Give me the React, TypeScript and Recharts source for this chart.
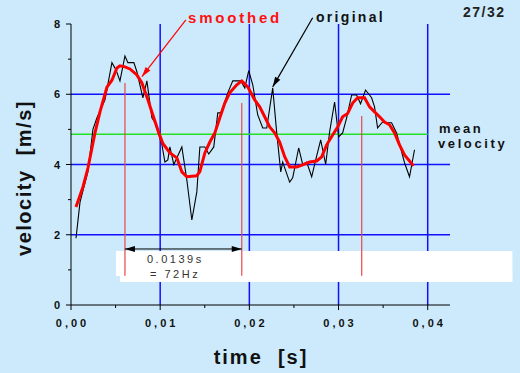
import React from 'react';
import {
  LineChart, Line, XAxis, YAxis, CartesianGrid, ReferenceLine, ReferenceArea,
} from 'recharts';

// ---- data (time in s, velocity in m/s) ----
const originalTime = [
  0.00056, 0.00101, 0.0019, 0.00246, 0.00291, 0.00381, 0.00459, 0.00504, 0.00549, 0.00605,
  0.00638, 0.00705, 0.00739, 0.00806, 0.00851, 0.00907, 0.00941, 0.0102, 0.01053, 0.01086,
  0.01109, 0.01153, 0.01243, 0.01299, 0.01355, 0.01411, 0.01445, 0.01501, 0.01545, 0.01601,
  0.01646, 0.0168, 0.01758, 0.01814, 0.01904, 0.01949, 0.01993, 0.02038, 0.02094, 0.0215,
  0.02195, 0.02262, 0.02307, 0.02352, 0.02374, 0.02452, 0.02486, 0.02553, 0.02598, 0.02643,
  0.02699, 0.02744, 0.028, 0.02856, 0.029, 0.02956, 0.03001, 0.03046, 0.03091, 0.03147,
  0.03203, 0.03247, 0.03303, 0.03371, 0.03404, 0.03438, 0.03494, 0.03539, 0.03595, 0.03651,
  0.0374, 0.03796, 0.03852,
];
const originalVelocity = [
  1.9, 2.93, 3.8, 5.0, 5.33, 5.84, 6.9, 6.7, 6.38, 7.09,
  6.9, 6.9, 6.64, 5.9, 6.38, 5.33, 5.2, 4.56, 4.07, 4.13,
  4.5, 4.0, 4.5, 3.56, 2.42, 3.22, 4.5, 4.5, 4.3, 4.5,
  5.47, 5.47, 6.04, 6.38, 6.38, 6.18, 6.67, 6.27, 5.41, 5.04,
  5.04, 6.18, 4.9, 3.79, 4.07, 3.5, 3.62, 4.47, 4.0, 4.07,
  3.65, 4.13, 4.7, 4.0, 4.93, 5.78, 4.79, 4.9, 5.33, 5.98,
  5.98, 5.73, 6.12, 5.9, 5.64, 5.04, 5.21, 5.19, 5.19, 4.9,
  4.05, 3.65, 4.42,
];
const smoothedTime = [
  0.00056, 0.00134, 0.0019, 0.00269, 0.00325, 0.00403, 0.00459, 0.00515, 0.00549, 0.00605,
  0.00661, 0.00739, 0.00795, 0.00862, 0.00918, 0.00985, 0.0103, 0.01109, 0.01187, 0.01243,
  0.01299, 0.01411, 0.01445, 0.01501, 0.01557, 0.01613, 0.01669, 0.01725, 0.0178, 0.01859,
  0.01915, 0.01982, 0.0206, 0.02116, 0.02172, 0.02228, 0.02284, 0.0234, 0.02396, 0.02452,
  0.02531, 0.02598, 0.02676, 0.02755, 0.02811, 0.02867, 0.02934, 0.0299, 0.03046, 0.03102,
  0.03158, 0.03214, 0.03292, 0.03348, 0.03404, 0.0346, 0.03516, 0.03572, 0.03628, 0.03684,
  0.0374, 0.03796, 0.03841,
];
const smoothedVelocity = [
  2.79, 3.36, 3.9, 4.9, 5.5, 6.2, 6.4, 6.75, 6.81, 6.78,
  6.72, 6.55, 6.32, 5.84, 5.41, 4.9, 4.6, 4.33, 4.19, 3.79,
  3.65, 3.68, 3.8, 4.33, 4.64, 4.9, 5.33, 5.75, 6.04, 6.27,
  6.38, 6.21, 5.84, 5.64, 5.36, 5.07, 4.9, 4.64, 4.22, 3.93,
  3.93, 3.99, 4.07, 4.1, 4.22, 4.56, 4.84, 5.07, 5.36, 5.45,
  5.75, 5.9, 5.9, 5.64, 5.5, 5.36, 5.21, 5.13, 4.9, 4.56,
  4.27, 4.1, 3.96,
];
const meanVelocity = 4.86;
const peakTimes = [0.00605, 0.01915, 0.0326];
const peakTops = [6.32, 5.75, 5.38];
const xTicks = [0, 0.005, 0.01, 0.015, 0.02, 0.025, 0.03, 0.035, 0.04];
const yTicks = [0, 1, 2, 3, 4, 5, 6, 7, 8];
const gridX = [0.01, 0.02, 0.03, 0.04];
const gridY = [2, 4, 6];

const originalData = originalTime.map((t, i) => ({ t, v: originalVelocity[i] }));
const smoothedData = smoothedTime.map((t, i) => ({ t, v: smoothedVelocity[i] }));

const FONT = '"Liberation Sans", Arial, sans-serif';
const BG = '#CCEAFC';

const YTick = (props: any) => {
  const { x, y, payload } = props;
  const major = payload.value % 2 === 0;
  return (
    <g>
      <line x1={x - (major ? 5 : 3)} x2={x} y1={y} y2={y} stroke="#000" strokeWidth={1} />
      {major && (
        <text x={x - 11} y={y} dy={4} textAnchor="end" fontFamily={FONT} fontWeight="bold" fontSize={11} fill="#111">
          {payload.value}
        </text>
      )}
    </g>
  );
};

const XTick = (props: any) => {
  const { x, y, payload } = props;
  const major = Math.round(payload.value * 1000) % 10 === 0;
  return (
    <g>
      <line x1={x} x2={x} y1={y} y2={y + (major ? 5 : 3)} stroke="#000" strokeWidth={1} />
      {major && (
        <text x={x + 1.5} y={y + 22} textAnchor="middle" fontFamily={FONT} fontWeight="bold" fontSize={11} letterSpacing={3} fill="#111">
          {payload.value.toFixed(2).replace('.', ',')}
        </text>
      )}
    </g>
  );
};

const arrowHead = (x: number, y: number, ang: number, color: string, len = 10, half = 3) => {
  const bx = x - len * Math.cos(ang);
  const by = y - len * Math.sin(ang);
  const px = -Math.sin(ang) * half;
  const py = Math.cos(ang) * half;
  return <polygon points={`${x},${y} ${bx + px},${by + py} ${bx - px},${by - py}`} fill={color} />;
};

const makeArrow = (color: string, width: number, both: boolean) => (props: any) => {
  const { x1, y1, x2, y2 } = props;
  const ang = Math.atan2(y2 - y1, x2 - x1);
  return (
    <g>
      <line x1={x1} y1={y1} x2={x2} y2={y2} stroke={color} strokeWidth={width} />
      {arrowHead(x2, y2, ang, color)}
      {both && arrowHead(x1, y1, ang + Math.PI, color)}
    </g>
  );
};

export default function App() {
  return (
    <div style={{ position: 'absolute', left: 0, top: 0, width: 520, height: 373, background: BG }}>
      <LineChart width={520} height={373} margin={{ top: 24, right: 70, bottom: 38, left: 11 }}>
        <CartesianGrid
          horizontalValues={gridY}
          verticalValues={gridX}
          stroke="#1010FF"
          strokeWidth={1.5}
        />
        <XAxis
          dataKey="t"
          type="number"
          domain={[0, 0.0425]}
          ticks={xTicks}
          allowDataOverflow
          height={30}
          tickSize={0}
          tickMargin={0}
          tickLine={false}
          tick={<XTick />}
          axisLine={{ stroke: '#000', strokeWidth: 1 }}
          interval={0}
        />
        <YAxis
          dataKey="v"
          type="number"
          domain={[0, 8]}
          ticks={yTicks}
          width={60}
          tickSize={0}
          tickMargin={0}
          tickLine={false}
          tick={<YTick />}
          axisLine={{ stroke: '#000', strokeWidth: 1 }}
          interval={0}
        />
        <ReferenceArea x1={0.00504} x2={0.0495} y1={0.826} y2={1.538} fill="#FFFFFF" fillOpacity={1} stroke="none" ifOverflow="visible" />
        <ReferenceArea x1={0.00549} x2={0.0495} y1={0.655} y2={0.9} fill="#FFFFFF" fillOpacity={1} stroke="none" ifOverflow="visible" />
        <ReferenceLine
          segment={[{ x: 0, y: meanVelocity }, { x: 0.04, y: meanVelocity }]}
          stroke="#22E022"
          strokeWidth={1.5}
        />
        {peakTimes.map((t, i) => (
          <ReferenceLine
            key={i}
            segment={[{ x: t, y: peakTops[i] }, { x: t, y: 0.83 }]}
            stroke="#E84848"
            strokeWidth={1.2}
          />
        ))}
        <Line data={originalData} dataKey="v" type="linear" stroke="#000" strokeWidth={1.1} dot={false} activeDot={false} isAnimationActive={false} />
        <Line data={smoothedData} dataKey="v" type="linear" stroke="#FF0000" strokeWidth={3} dot={false} activeDot={false} isAnimationActive={false} />
        <ReferenceLine
          segment={[{ x: 0.00605, y: 1.595 }, { x: 0.01915, y: 1.595 }]}
          ifOverflow="visible"
          shape={makeArrow('#000', 1, true)}
        />
        <ReferenceLine
          segment={[{ x: 0.01288, y: 8.12 }, { x: 0.00795, y: 6.5 }]}
          ifOverflow="visible"
          shape={makeArrow('#FF0000', 1.2, false)}
        />
        <ReferenceLine
          segment={[{ x: 0.0271, y: 8.18 }, { x: 0.02262, y: 6.21 }]}
          ifOverflow="visible"
          shape={makeArrow('#000', 1.2, false)}
        />
      </LineChart>
      <svg width={520} height={373} style={{ position: 'absolute', left: 0, top: 0, pointerEvents: 'none' }}>
        <g fontFamily={FONT} fontWeight="bold">
          <text x={188} y={23} fontSize={15} letterSpacing={2.8} fill="#FF1010">smoothed</text>
          <text x={316} y={22} fontSize={14} letterSpacing={2.3} fill="#111">original</text>
          <text x={463} y={17} fontSize={14} letterSpacing={1.5} fill="#222">27/32</text>
          <text x={439} y={133} fontSize={13} letterSpacing={2.6} fill="#111">mean</text>
          <text x={438} y={148} fontSize={13} letterSpacing={2.6} fill="#111">velocity</text>
          <text x={261} y={364} fontSize={20} letterSpacing={2} textAnchor="middle" fill="#111" style={{ whiteSpace: 'pre' }}>time  [s]</text>
          <text
            x={0}
            y={0}
            transform="translate(31,178) rotate(-90)"
            fontSize={20}
            letterSpacing={1.5}
            textAnchor="middle"
            fill="#111"
            style={{ whiteSpace: 'pre' }}
          >
            velocity  [m/s]
          </text>
        </g>
        <g fontFamily={FONT} fontSize={11} fill="#333" letterSpacing={2.5}>
          <text x={147} y={263}>0.0139s</text>
          <text x={150} y={278} style={{ whiteSpace: 'pre' }}>= 72Hz</text>
        </g>
      </svg>
    </div>
  );
}
